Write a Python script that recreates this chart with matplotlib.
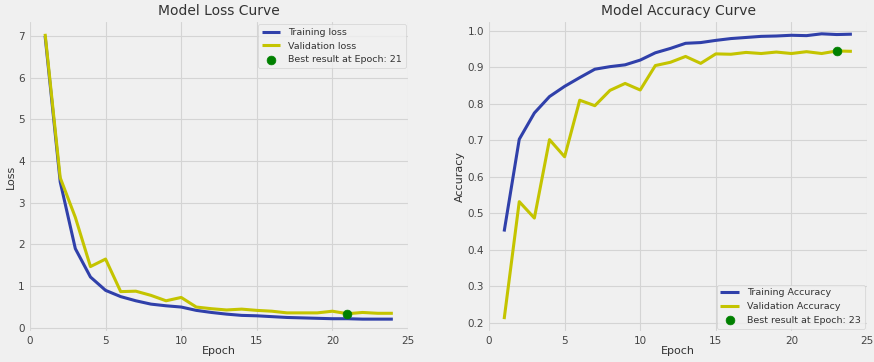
import matplotlib
matplotlib.use("Agg")
import matplotlib.pyplot as plt

# training history
epochs = list(range(1, 25))
tr_loss = [7.0, 3.5, 1.9, 1.22, 0.9, 0.75, 0.65, 0.57, 0.53, 0.5, 0.42, 0.37,
           0.33, 0.3, 0.29, 0.27, 0.25, 0.24, 0.23, 0.22, 0.22, 0.21, 0.21, 0.21]
val_loss = [7.05, 3.6, 2.65, 1.47, 1.65, 0.87, 0.88, 0.78, 0.65, 0.73, 0.5, 0.46,
            0.43, 0.45, 0.42, 0.4, 0.36, 0.36, 0.36, 0.4, 0.34, 0.37, 0.35, 0.35]
tr_acc = [0.45, 0.703, 0.775, 0.82, 0.848, 0.872, 0.895, 0.902, 0.907, 0.92, 0.94, 0.952,
          0.966, 0.968, 0.974, 0.979, 0.982, 0.985, 0.986, 0.988, 0.987, 0.992, 0.99, 0.991]
val_acc = [0.21, 0.532, 0.487, 0.702, 0.655, 0.81, 0.795, 0.837, 0.856, 0.838, 0.905, 0.914,
           0.93, 0.911, 0.937, 0.936, 0.941, 0.938, 0.942, 0.938, 0.943, 0.938, 0.945, 0.944]

best_loss_epoch = 21
best_acc_epoch = 23

plt.style.use("fivethirtyeight")
plt.rcParams["font.family"] = ["DejaVu Sans"]

blue = "#3040aa"
yellow = "#c4c400"
txt = "#333333"

fig, (ax1, ax2) = plt.subplots(1, 2, figsize=(8.74, 3.62), dpi=100)
fig.patch.set_facecolor("#f0f0f0")
plt.subplots_adjust(left=0.0317, right=0.9946, bottom=0.079, top=0.946, wspace=0.2)

# loss
ax1.plot(epochs, tr_loss, color=blue, lw=2.2, label="Training loss")
ax1.plot(epochs, val_loss, color=yellow, lw=2.2, label="Validation loss")
ax1.scatter(best_loss_epoch, val_loss[best_loss_epoch - 1], s=40, c="green", zorder=3,
            label=f"Best result at Epoch: {best_loss_epoch}")
ax1.set_title("Model Loss Curve", fontsize=10, color=txt, pad=3)
ax1.set_xlabel("Epoch", fontsize=8, color=txt, labelpad=0)
ax1.set_ylabel("Loss", fontsize=8, color=txt, labelpad=2)
ax1.legend(fontsize=6.8, loc="upper right", labelcolor=txt)

# accuracy
ax2.plot(epochs, tr_acc, color=blue, lw=2.2, label="Training Accuracy")
ax2.plot(epochs, val_acc, color=yellow, lw=2.2, label="Validation Accuracy")
ax2.scatter(best_acc_epoch, val_acc[best_acc_epoch - 1], s=40, c="green", zorder=3,
            label=f"Best result at Epoch: {best_acc_epoch}")
ax2.set_title("Model Accuracy Curve", fontsize=10, color=txt, pad=3)
ax2.set_xlabel("Epoch", fontsize=8, color=txt, labelpad=0)
ax2.set_ylabel("Accuracy", fontsize=8, color=txt, labelpad=2)
ax2.legend(fontsize=6.8, loc="lower right", labelcolor=txt)

for ax in (ax1, ax2):
    ax.tick_params(labelsize=7.5, labelcolor="#444444", pad=2)
    ax.set_xticks([0, 5, 10, 15, 20, 25])
    ax.grid(color="#d4d4d4", lw=0.8)

fig.savefig("out.png", dpi=100, facecolor=fig.get_facecolor())
